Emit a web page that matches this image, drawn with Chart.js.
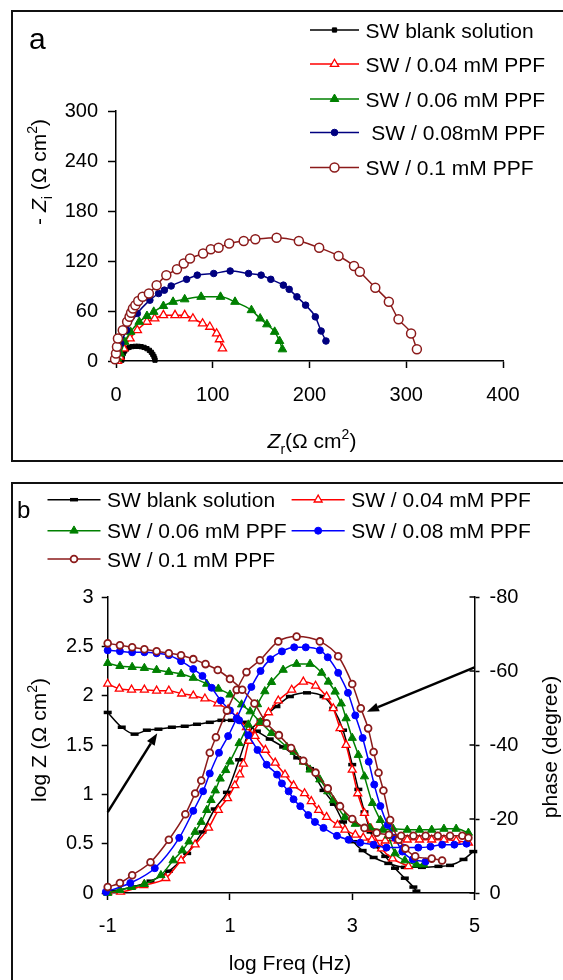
<!DOCTYPE html>
<html>
<head>
<meta charset="utf-8">
<title>Impedance of SW with PPF</title>
<script src="https://cdn.jsdelivr.net/npm/chart.js@4.4.1/dist/chart.umd.min.js"></script>
<style>
  html, body { margin: 0; padding: 0; background: #fff; }
  body { position: relative; width: 563px; height: 980px; overflow: hidden; }
  .frame { position: absolute; border: 2px solid #111; box-sizing: border-box; }
  #frameA { left: 11px; top: 10px; width: 620px; height: 452px; }
  #frameB { left: 11px; top: 482px; width: 620px; height: 540px; }
  canvas { position: absolute; left: 0; }
  #nyquist { top: 0; }
  #bode { top: 470px; }
</style>
</head>
<body>
<div class="frame" id="frameA"></div>
<div class="frame" id="frameB"></div>
<canvas id="nyquist" width="563" height="470"></canvas>
<canvas id="bode" width="563" height="510"></canvas>
<script>
const FONT = '"Liberation Sans", Arial, sans-serif';

// --- (a) Nyquist: [Zr, -Zi] in Ω cm²
const nyqBlank = [[6,1],[6.5,5],[7.5,9],[9,12],[11,14.5],[13.5,16.3],[16.5,17.3],[20,17.6],[23,17.6],[26,17.2],[29,16.3],[32,14.8],[34.5,12.8],[36.5,10.5],[38,8],[39.2,5.5],[40,3],[40.3,1]];
const nyq004 = [[1.5,0],[4,5],[8,15],[14.5,27],[22,37],[32,47],[40,51],[49,55],[61,55],[71,55],[79.5,51],[89.5,45],[97,41],[104,33],[107,26],[110,15]];
const nyq006 = [[1.5,3],[4.5,9],[9,23],[15,35],[24,47],[32,54],[39,59],[49,66],[59,71],[71,74],[88,77],[108,77],[123,71],[140,61],[149,51],[156,44],[164,35],[169,24],[172,14]];
const nyq008 = [[1.5,9],[5,21],[11,37],[22,57],[35,73],[44,81],[50,85],[57,90],[73,98],[84,103],[101,105],[118,108],[137,105],[150,103],[160,98],[173,91],[179,86],[187,77],[196,67],[206,53],[212,36],[217,24]];
const nyq01 = [[-1,2],[0,9],[1,17],[2,27],[7,37],[11.5,47],[14,53],[15.6,58],[17.5,63],[20,67],[23,72],[27.5,77],[34,81],[42,91],[52,103],[63,110],[70,117],[76.5,123],[90,129],[98,134],[106,136],[117,141],[132,144],[144,146],[166,148],[189,144],[210,136],[230,126],[246,114],[252,107],[268,88],[282,71],[292,50],[305,33],[311,14]];

// --- (b) Bode: [log f, log |Z|]
const logZBlank = [[-1,1.83],[-0.77,1.68],[-0.56,1.61],[-0.36,1.65],[-0.17,1.66],[0.05,1.68],[0.26,1.69],[0.46,1.71],[0.67,1.73],[0.86,1.75],[1.03,1.75],[1.22,1.73],[1.44,1.64],[1.65,1.56],[1.87,1.48],[2.1,1.37],[2.31,1.26],[2.53,1.04],[2.7,0.9],[2.85,0.72],[3.02,0.52],[3.17,0.43],[3.35,0.36],[3.59,0.3],[3.86,0.26],[4.14,0.26],[4.41,0.27],[4.6,0.28],[4.82,0.34],[4.98,0.42]];
const logZ004 = [[-1,2.12],[-0.81,2.07],[-0.61,2.06],[-0.4,2.06],[-0.2,2.05],[0,2.05],[0.21,2.02],[0.4,2],[0.59,1.97],[0.8,1.92],[0.97,1.86],[1.12,1.78],[1.27,1.68],[1.41,1.59],[1.58,1.45],[1.74,1.32],[1.9,1.2],[2.04,1.09],[2.22,1.01],[2.33,0.93],[2.45,0.84],[2.58,0.77],[2.76,0.69],[2.88,0.64],[3.05,0.59],[3.18,0.56],[3.32,0.54],[3.54,0.53],[3.75,0.53],[3.9,0.54],[4.1,0.54],[4.3,0.54],[4.5,0.54],[4.7,0.53],[4.9,0.51]];
const logZ006 = [[-1,2.33],[-0.8,2.3],[-0.6,2.29],[-0.4,2.28],[-0.2,2.26],[0,2.24],[0.2,2.22],[0.4,2.18],[0.62,2.12],[0.81,2.07],[1,2.01],[1.19,1.91],[1.33,1.84],[1.5,1.73],[1.68,1.62],[1.93,1.48],[2.05,1.43],[2.2,1.33],[2.31,1.25],[2.47,1.15],[2.6,1.03],[2.69,0.94],[2.88,0.77],[3.05,0.7],[3.29,0.66],[3.5,0.64],[3.67,0.65],[3.9,0.64],[4.1,0.64],[4.3,0.64],[4.5,0.65],[4.7,0.65],[4.9,0.61]];
const logZ008 = [[-1,2.46],[-0.8,2.45],[-0.6,2.44],[-0.4,2.44],[-0.2,2.43],[0,2.41],[0.2,2.35],[0.4,2.27],[0.55,2.2],[0.7,2.08],[0.85,1.95],[1,1.85],[1.15,1.75],[1.3,1.6],[1.45,1.45],[1.6,1.3],[1.77,1.2],[1.85,1.11],[1.96,1.03],[2.04,0.95],[2.15,0.88],[2.28,0.79],[2.39,0.72],[2.53,0.66],[2.75,0.58],[2.94,0.54],[3.13,0.51],[3.35,0.49],[3.56,0.46],[3.84,0.46],[4.08,0.46],[4.28,0.47],[4.47,0.49],[4.67,0.49],[4.87,0.5]];
const logZ01 = [[-1,2.53],[-0.8,2.51],[-0.6,2.49],[-0.4,2.47],[-0.2,2.45],[0,2.43],[0.2,2.41],[0.4,2.37],[0.6,2.32],[0.8,2.26],[1,2.17],[1.2,2.06],[1.4,1.92],[1.6,1.72],[1.8,1.6],[2,1.47],[2.2,1.34],[2.4,1.22],[2.6,1.06],[2.8,0.88],[3,0.75],[3.2,0.66],[3.4,0.61],[3.6,0.59],[3.8,0.58],[4,0.58],[4.2,0.58],[4.4,0.58],[4.6,0.58],[4.8,0.58],[4.9,0.56]];

// --- (b) Bode: [log f, phase in degrees]
const phaseBlank = [[-0.9,-0.5],[-0.6,-1.6],[-0.3,-3.2],[0,-5.9],[0.3,-10.7],[0.55,-16.5],[0.75,-22.7],[0.95,-27.2],[1.15,-36],[1.3,-43],[1.5,-46.7],[1.76,-50.4],[1.98,-53.1],[2.26,-54.1],[2.53,-53.1],[2.69,-49.9],[2.85,-44],[3,-34.7],[3.1,-28],[3.2,-21.9],[3.3,-16.5],[3.4,-12.5],[3.54,-9.9],[3.7,-6.7],[3.86,-4],[4,-1.6],[4.05,-0.5]];
const phase004 = [[-1,-0.3],[-0.79,-0.3],[-0.41,-2.1],[-0.05,-4],[0.2,-8.8],[0.43,-13.1],[0.65,-17.6],[0.81,-22.4],[0.96,-25.6],[1.08,-29.1],[1.16,-32],[1.22,-34.9],[1.31,-41.1],[1.48,-45.9],[1.63,-48.8],[1.79,-52],[2.01,-54.9],[2.2,-57.1],[2.4,-56],[2.58,-53.1],[2.69,-49.9],[2.8,-44.5],[2.9,-40],[3,-33.3],[3.09,-26.9],[3.2,-21.6],[3.31,-17.3],[3.48,-12],[3.66,-9.3],[3.92,-7.2]];
const phase006 = [[-1,0],[-0.8,-0.8],[-0.61,-1.6],[-0.4,-2.4],[-0.13,-4.8],[0.07,-8.8],[0.22,-11.5],[0.33,-13.9],[0.43,-16.5],[0.53,-19.2],[0.62,-22.4],[0.69,-25.1],[0.76,-27.7],[0.84,-30.9],[0.93,-33.2],[1,-35.5],[1.15,-40.5],[1.3,-45.5],[1.45,-51],[1.57,-54.5],[1.68,-57],[1.87,-60.3],[2.09,-61.9],[2.31,-61.9],[2.5,-59.5],[2.61,-57.1],[2.72,-54.4],[2.82,-51.2],[2.9,-47.2],[3,-41.9],[3.1,-37.3],[3.2,-31.5],[3.33,-24.3],[3.46,-19.7],[3.59,-15.5],[3.7,-10.7],[3.86,-8.8],[4.05,-7.7],[4.17,-7.7]];
const phase008 = [[-1.03,-0.3],[-0.63,-2.7],[-0.23,-6.7],[0.17,-14.9],[0.4,-22.2],[0.56,-27.5],[0.67,-32.3],[0.82,-37.9],[0.97,-42.4],[1.11,-47.2],[1.35,-55.7],[1.5,-60],[1.66,-63.2],[1.85,-65.3],[2.05,-66.4],[2.24,-66.4],[2.47,-65.6],[2.6,-63.7],[2.77,-59.5],[2.93,-54.1],[3.05,-48],[3.17,-41.9],[3.27,-35.5],[3.36,-29.3],[3.46,-23.5],[3.58,-18.4],[3.7,-14.9],[3.82,-11.2],[3.99,-9.1],[4.2,-8.5]];
const phase01 = [[-1,-1.6],[-0.8,-2.7],[-0.6,-4.8],[-0.3,-8.3],[0,-14.4],[0.27,-21.3],[0.43,-26.9],[0.53,-30.4],[0.67,-37.9],[0.77,-42.1],[0.95,-49.3],[1.11,-54.9],[1.27,-59.7],[1.49,-62.9],[1.79,-68],[2.09,-69.3],[2.47,-68],[2.77,-64],[3,-56.5],[3.14,-49.9],[3.26,-44.5],[3.35,-38.1],[3.43,-32.5],[3.51,-27.7],[3.62,-19.7],[3.76,-14.4],[3.87,-12],[4.03,-9.9],[4.3,-9.3],[4.47,-8.8]];

// labels and ticks
const labelsA = ['SW blank solution', 'SW / 0.04 mM PPF', 'SW / 0.06 mM PPF', ' SW / 0.08mM PPF', 'SW / 0.1 mM PPF'];
const labelsB = ['SW blank solution', 'SW / 0.04 mM PPF', 'SW / 0.06 mM PPF', 'SW / 0.08 mM PPF', 'SW / 0.1 mM PPF'];
const zrTicks = [0, 100, 200, 300, 400];
const ziTicks = [0, 60, 120, 180, 240, 300];
const freqTicks = [-1, 1, 3, 5];
const logZTicks = [0, 0.5, 1, 1.5, 2, 2.5, 3];
const phaseTicks = [0, -20, -40, -60, -80];

// arrows pointing from each axis to its curve family
const arrowLogZ = [[-1, 0.82], [-0.19, 1.62]];
const arrowPhase = [[5, -61], [3.24, -49]];

// marker styles per series
const marksA = [
  { color: '#000000', pointStyle: 'rect', radius: 3, hollow: false, borderWidth: 1 },
  { color: '#ff0000', pointStyle: 'triangle', radius: 4.8, hollow: true, borderWidth: 1.3 },
  { color: '#008000', pointStyle: 'triangle', radius: 5, hollow: false, borderWidth: 1 },
  { color: '#000080', pointStyle: 'circle', radius: 3.3, hollow: false, borderWidth: 1 },
  { color: '#8b1a1a', pointStyle: 'circle', radius: 4.5, hollow: true, borderWidth: 1.5 },
];
const marksB = [
  { color: '#000000', pointStyle: 'line', radius: 4, hollow: false, borderWidth: 3.5 },
  { color: '#ff0000', pointStyle: 'triangle', radius: 4.6, hollow: true, borderWidth: 1.3 },
  { color: '#008000', pointStyle: 'triangle', radius: 4.8, hollow: false, borderWidth: 1 },
  { color: '#0000ff', pointStyle: 'circle', radius: 3.5, hollow: false, borderWidth: 1 },
  { color: '#8b1a1a', pointStyle: 'circle', radius: 3.4, hollow: true, borderWidth: 1.8 },
];

const makeSet = (label, pts, m, yAxisID, order) => ({
  label,
  data: pts.map(([x, y]) => ({ x, y })),
  showLine: true,
  borderColor: m.color,
  borderWidth: 1.5,
  pointStyle: m.pointStyle,
  pointRadius: m.radius,
  pointBorderColor: m.color,
  pointBackgroundColor: m.hollow ? '#ffffff' : m.color,
  pointBorderWidth: m.borderWidth,
  cubicInterpolationMode: 'monotone',
  clip: false,
  yAxisID,
  order,
});

const makeAxis = (ticksArr, min, max, tickLen, pad, extra) => Object.assign({
  type: 'linear',
  min, max,
  afterBuildTicks: s => { s.ticks = ticksArr.map(v => ({ value: v })); },
  ticks: { color: '#000', font: { family: FONT, size: 20 }, padding: pad, autoSkip: false, maxRotation: 0, callback: v => String(v) },
  grid: { drawOnChartArea: false, drawTicks: true, tickLength: tickLen, tickColor: '#000', tickWidth: 1.5 },
  border: { display: true, color: '#000', width: 1.5 },
  title: { display: false },
}, extra);

// text with italic / sub / superscript parts
function drawRich(ctx, item) {
  const { parts, x, y, size, rotate, align } = item;
  const fontFor = p => `${p.italic ? 'italic ' : ''}${p.sub || p.sup ? Math.round(size * 0.68) : size}px ${FONT}`;
  ctx.save();
  ctx.translate(x, y);
  if (rotate) ctx.rotate(-Math.PI / 2);
  ctx.textBaseline = 'alphabetic';
  ctx.textAlign = 'left';
  ctx.fillStyle = '#000';
  const widths = parts.map(p => { ctx.font = fontFor(p); return ctx.measureText(p.t).width; });
  let cx = align === 'left' ? 0 : -widths.reduce((a, b) => a + b, 0) / 2;
  parts.forEach((p, i) => {
    ctx.font = fontFor(p);
    const dy = p.sub ? size * 0.28 : p.sup ? -size * 0.42 : 0;
    ctx.fillText(p.t, cx, dy);
    cx += widths[i];
  });
  ctx.restore();
}

function drawMark(ctx, m, x, y) {
  const r = m.radius;
  ctx.beginPath();
  if (m.pointStyle === 'circle') {
    ctx.arc(x, y, r, 0, Math.PI * 2);
  } else if (m.pointStyle === 'triangle') {
    for (let k = 0; k < 3; k++) {
      const a = k * 2 * Math.PI / 3;
      ctx[k ? 'lineTo' : 'moveTo'](x + Math.sin(a) * r, y - Math.cos(a) * r);
    }
    ctx.closePath();
  } else if (m.pointStyle === 'rect') {
    const s = r * Math.SQRT1_2;
    ctx.rect(x - s, y - s, 2 * s, 2 * s);
  } else {
    ctx.moveTo(x - r, y);
    ctx.lineTo(x + r, y);
  }
  ctx.fillStyle = m.hollow ? '#fff' : m.color;
  ctx.strokeStyle = m.color;
  ctx.lineWidth = m.borderWidth;
  if (m.pointStyle !== 'line') ctx.fill();
  ctx.stroke();
}

function drawArrow(chart, a) {
  const xs = chart.scales.x, ys = chart.scales[a.axis];
  const x0 = xs.getPixelForValue(a.pts[0][0]), y0 = ys.getPixelForValue(a.pts[0][1]);
  const x1 = xs.getPixelForValue(a.pts[1][0]), y1 = ys.getPixelForValue(a.pts[1][1]);
  const ang = Math.atan2(y1 - y0, x1 - x0), head = 12, half = 4.5;
  const ctx = chart.ctx;
  ctx.save();
  ctx.strokeStyle = ctx.fillStyle = '#000';
  ctx.lineWidth = 2.5;
  ctx.beginPath();
  ctx.moveTo(x0, y0);
  ctx.lineTo(x1 - Math.cos(ang) * head, y1 - Math.sin(ang) * head);
  ctx.stroke();
  ctx.beginPath();
  ctx.moveTo(x1, y1);
  ctx.lineTo(x1 - Math.cos(ang) * head - Math.sin(ang) * half, y1 - Math.sin(ang) * head + Math.cos(ang) * half);
  ctx.lineTo(x1 - Math.cos(ang) * head + Math.sin(ang) * half, y1 - Math.sin(ang) * head - Math.cos(ang) * half);
  ctx.closePath();
  ctx.fill();
  ctx.restore();
}

// legend, axis titles, panel letter, arrows
const decor = {
  id: 'decor',
  afterDraw(chart, args, opts) {
    const ctx = chart.ctx;
    (opts.legend || []).forEach(it => {
      ctx.save();
      ctx.strokeStyle = it.mark.color;
      ctx.lineWidth = 1.5;
      ctx.beginPath();
      ctx.moveTo(it.x0, it.y);
      ctx.lineTo(it.x1, it.y);
      ctx.stroke();
      drawMark(ctx, it.mark, (it.x0 + it.x1) / 2, it.y);
      ctx.restore();
      drawRich(ctx, { parts: [{ t: it.label }], x: it.x1 + 6.5, y: it.y + 7.5, size: 21, align: 'left' });
    });
    (opts.texts || []).forEach(t => drawRich(ctx, t));
    (opts.arrows || []).forEach(a => drawArrow(chart, a));
    if (opts.crossTicks) {
      const s = chart.scales[opts.crossTicks];
      ctx.save();
      ctx.strokeStyle = '#000';
      ctx.lineWidth = 1.5;
      s.ticks.forEach(t => {
        const py = s.getPixelForValue(t.value);
        ctx.beginPath();
        ctx.moveTo(s.left - 5, py);
        ctx.lineTo(s.left, py);
        ctx.stroke();
      });
      ctx.restore();
    }
  },
};

Chart.defaults.font.family = FONT;
Chart.defaults.color = '#000';

// (a) Nyquist plot
const nyqSeries = [nyqBlank, nyq004, nyq006, nyq008, nyq01];
const legendRowsA = [30, 64, 99, 132.5, 167.5];

new Chart(document.getElementById('nyquist'), {
  type: 'scatter',
  data: {
    datasets: nyqSeries.map((pts, i) => makeSet(labelsA[i], pts, marksA[i], 'y', 4 - i)),
  },
  options: {
    responsive: false,
    animation: false,
    devicePixelRatio: 1,
    layout: { padding: { left: 40, top: 111, right: 60, bottom: 49 } },
    scales: {
      x: makeAxis(zrTicks, 0, 400, 7, 15, { position: 'bottom', afterFit: s => { s.height = 60; } }),
      y: makeAxis(ziTicks, 0, 300, 8, 10, { position: 'left', afterFit: s => { s.width = 76; } }),
    },
    plugins: {
      legend: { display: false },
      tooltip: { enabled: false },
      decor: {
        legend: labelsA.map((label, i) => ({ label, mark: marksA[i], x0: 310, x1: 359, y: legendRowsA[i] })),
        texts: [
          { parts: [{ t: 'a' }], x: 29, y: 49, size: 30, align: 'left' },
          { parts: [{ t: 'Z', italic: true }, { t: 'r', sub: true }, { t: '(Ω cm' }, { t: '2', sup: true }, { t: ')' }], x: 312, y: 448, size: 21 },
          { parts: [{ t: '- ' }, { t: 'Z', italic: true }, { t: 'i', sub: true }, { t: ' (Ω cm' }, { t: '2', sup: true }, { t: ')' }], x: 46, y: 172, size: 21, rotate: true },
        ],
      },
    },
  },
  plugins: [decor],
});

// (b) Bode plot: log |Z| on the left axis, phase on the right axis
const logZSeries = [logZBlank, logZ004, logZ006, logZ008, logZ01];
const phaseSeries = [phaseBlank, phase004, phase006, phase008, phase01];
const legendSlotsB = [
  { x0: 47.5, x1: 100.5, y: 29.7 },
  { x0: 291.6, x1: 344.7, y: 29.7 },
  { x0: 47.5, x1: 100.5, y: 60.7 },
  { x0: 291.6, x1: 344.7, y: 60.7 },
  { x0: 47.5, x1: 100.5, y: 89 },
];

new Chart(document.getElementById('bode'), {
  type: 'scatter',
  data: {
    datasets: [
      ...logZSeries.map((pts, i) => makeSet(labelsB[i], pts, marksB[i], 'y', 4 - i)),
      ...phaseSeries.map((pts, i) => makeSet(labelsB[i], pts, marksB[i], 'y2', 4 - i)),
    ],
  },
  options: {
    responsive: false,
    animation: false,
    devicePixelRatio: 1,
    layout: { padding: { left: 47.7, top: 127, right: 28.5, bottom: 37 } },
    scales: {
      x: makeAxis(freqTicks, -1, 5, 7, 14, { position: 'bottom', afterFit: s => { s.height = 50; } }),
      y: makeAxis(logZTicks, 0, 3, 6, 8, { position: 'left', afterFit: s => { s.width = 60; } }),
      y2: makeAxis(phaseTicks, -80, 0, 5, 10, { position: 'right', reverse: true, afterFit: s => { s.width = 60; } }),
    },
    plugins: {
      legend: { display: false },
      tooltip: { enabled: false },
      decor: {
        legend: labelsB.map((label, i) => Object.assign({ label, mark: marksB[i] }, legendSlotsB[i])),
        texts: [
          { parts: [{ t: 'b' }], x: 17, y: 48, size: 24, align: 'left' },
          { parts: [{ t: 'log Freq (Hz)' }], x: 290, y: 500, size: 21 },
          { parts: [{ t: 'log Z (Ω cm' }, { t: '2', sup: true }, { t: ')' }], x: 46, y: 270, size: 21, rotate: true },
          { parts: [{ t: 'phase (degree)' }], x: 557, y: 277, size: 21, rotate: true },
        ],
        arrows: [
          { axis: 'y', pts: arrowLogZ },
          { axis: 'y2', pts: arrowPhase },
        ],
        crossTicks: 'y2',
      },
    },
  },
  plugins: [decor],
});
</script>
</body>
</html>
